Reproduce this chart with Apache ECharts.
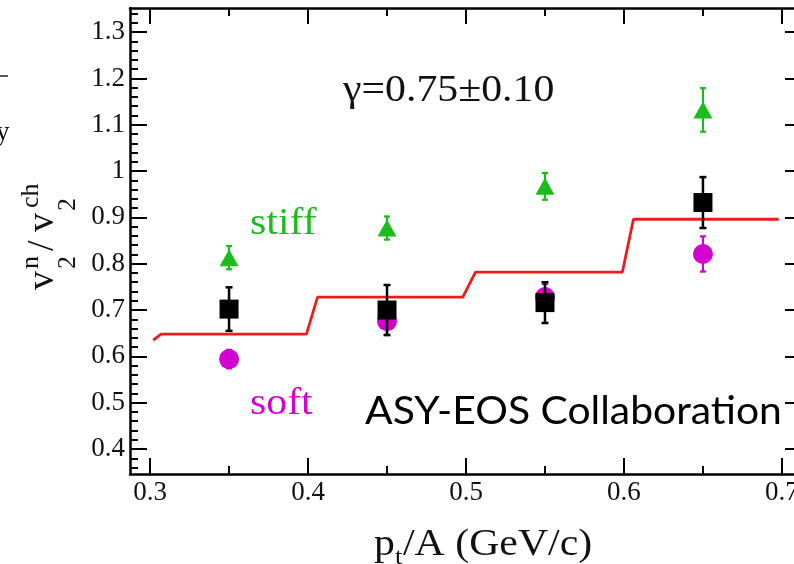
<!DOCTYPE html>
<html>
<head>
<meta charset="utf-8">
<script src="https://cdn.jsdelivr.net/npm/echarts@6/dist/echarts.min.js"></script>
<style>
  html, body { margin: 0; padding: 0; background: #fff; }
  #chart { width: 794px; height: 564px; }
</style>
</head>
<body>
<div id="chart"></div>
<script>
// Transverse-momentum bins (pt/A, GeV/c)
const ptA = [0.35, 0.45, 0.55, 0.65];

// Measured neutron/charged elliptic-flow ratio with errors
const dataV   = [0.702, 0.700, 0.716, 0.932];
const dataErr = [0.047, 0.054, 0.044, 0.055];

// UrQMD stiff prediction
const stiffV   = [0.813, 0.877, 0.967, 1.132];
const stiffErr = [0.025, 0.025, 0.029, 0.047];

// UrQMD soft prediction
const softV   = [0.594, 0.676, 0.728, 0.821];
const softErr = [0.020, 0.030, 0.028, 0.038];

// Best-fit (gamma = 0.75) step curve
const fitX = [0.302, 0.307, 0.399, 0.406, 0.498, 0.506, 0.599, 0.606, 0.698];
const fitY = [0.635, 0.648, 0.648, 0.728, 0.728, 0.782, 0.782, 0.896, 0.896];

// Axis ranges and tick positions
const X_MIN = 0.2873, X_MAX = 0.7127;
const Y_MIN = 0.346,  Y_MAX = 1.352;
const xMajor = [0.3, 0.4, 0.5, 0.6, 0.7];
const xMinor = [0.35, 0.45, 0.55, 0.65];
const yMajor = [0.4, 0.5, 0.6, 0.7, 0.8, 0.9, 1.0, 1.1, 1.2, 1.3];
const yMinor = [];
for (let i = 0; i < yMajor.length; i++) {
  for (let k = 1; k <= 4; k++) yMinor.push(+(yMajor[i] - 0.1 + k * 0.02).toFixed(2));
}
yMinor.push(1.32, 1.34);

const SERIF = 'Liberation Serif';
const SANS = 'Lato';
const GREEN = '#1cbc1c', MAGENTA = '#d400cf', RED = '#ec1c1c';

const zip3 = (xs, ys, es) => xs.map((x, i) => [x, ys[i], es[i]]);
const zip2 = (xs, ys) => xs.map((x, i) => [x, ys[i]]);

function errorBars(color, capHalf, width) {
  return function (params, api) {
    const x = api.value(0), y = api.value(1), e = api.value(2);
    const hi = api.coord([x, y + e]);
    const lo = api.coord([x, y - e]);
    const st = { stroke: color, lineWidth: width };
    return {
      type: 'group',
      children: [
        { type: 'line', shape: { x1: hi[0], y1: hi[1], x2: lo[0], y2: lo[1] }, style: st },
        { type: 'line', shape: { x1: hi[0] - capHalf, y1: hi[1], x2: hi[0] + capHalf, y2: hi[1] }, style: st },
        { type: 'line', shape: { x1: lo[0] - capHalf, y1: lo[1], x2: lo[0] + capHalf, y2: lo[1] }, style: st }
      ]
    };
  };
}

function xAxisDef(pos, values, len, withLine, withLabel) {
  return {
    type: 'value', position: pos, min: X_MIN, max: X_MAX,
    axisLine: { show: withLine, onZero: false, lineStyle: { color: '#000', width: 2.5 } },
    axisTick: { show: true, inside: true, length: len, customValues: values,
                lineStyle: { color: '#000', width: 2 } },
    axisLabel: withLabel ? {
      show: true, customValues: values, margin: 5,
      alignMinLabel: 'center', alignMaxLabel: 'center', hideOverlap: false,
      fontFamily: SERIF, fontSize: 27, color: '#111',
      formatter: v => v.toFixed(1)
    } : { show: false },
    splitLine: { show: false }
  };
}

function yAxisDef(pos, values, len, withLine, withLabel) {
  return {
    type: 'value', position: pos, min: Y_MIN, max: Y_MAX,
    axisLine: { show: withLine, onZero: false, lineStyle: { color: '#000', width: 2.5 } },
    axisTick: { show: true, inside: true, length: len, customValues: values,
                lineStyle: { color: '#000', width: 2 } },
    axisLabel: withLabel ? {
      show: true, customValues: values, margin: 5,
      fontFamily: SERIF, fontSize: 27, color: '#111',
      formatter: v => (Math.abs(v - 1) < 1e-9 ? '1' : v.toFixed(1))
    } : { show: false },
    splitLine: { show: false }
  };
}

// Text placed by its baseline (verticalAlign middle sits ~0.33em above it)
function txt(text, x, base, size, fill, family, sx) {
  return {
    type: 'text', x: x, y: base - 0.33 * size, scaleX: sx || 1,
    style: { text: text, fontFamily: family, fontSize: size, fill: fill,
             align: 'left', verticalAlign: 'middle' }
  };
}

const chart = echarts.init(document.getElementById('chart'), null, { renderer: 'canvas' });

chart.setOption({
  backgroundColor: '#ffffff',
  animation: false,
  grid: { left: 130, top: 8, right: -8, bottom: 90, containLabel: false, outerBoundsMode: 'none' },
  xAxis: [
    xAxisDef('bottom', xMajor, 16, true, true),
    xAxisDef('bottom', xMinor, 8, false, false),
    xAxisDef('top', xMajor, 16, true, false),
    xAxisDef('top', xMinor, 8, false, false)
  ],
  yAxis: [
    yAxisDef('left', yMajor, 17, true, true),
    yAxisDef('left', yMinor, 8, false, false),
    yAxisDef('right', yMajor, 17, true, false),
    yAxisDef('right', yMinor, 8, false, false)
  ],
  series: [
    {
      name: 'fit', type: 'line', data: zip2(fitX, fitY),
      showSymbol: false, symbol: 'none', z: 2,
      lineStyle: { color: RED, width: 2.8 }
    },
    {
      name: 'soft err', type: 'custom', data: zip3(ptA, softV, softErr), z: 3,
      encode: { x: 0, y: 1 }, renderItem: errorBars(MAGENTA, 3, 2.2)
    },
    {
      name: 'soft', type: 'scatter', data: zip2(ptA, softV), z: 3,
      symbol: 'circle', symbolSize: 20, itemStyle: { color: MAGENTA, opacity: 1 }
    },
    {
      name: 'stiff err', type: 'custom', data: zip3(ptA, stiffV, stiffErr), z: 4,
      encode: { x: 0, y: 1 }, renderItem: errorBars(GREEN, 3, 2.2)
    },
    {
      name: 'stiff', type: 'scatter', data: zip2(ptA, stiffV), z: 4,
      symbol: 'triangle', symbolSize: [19, 17], itemStyle: { color: GREEN, opacity: 1 }
    },
    {
      name: 'data err', type: 'custom', data: zip3(ptA, dataV, dataErr), z: 5,
      encode: { x: 0, y: 1 }, renderItem: errorBars('#000', 3.5, 2.5)
    },
    {
      name: 'data', type: 'scatter', data: zip2(ptA, dataV), z: 5,
      symbol: 'rect', symbolSize: 19, itemStyle: { color: '#000', opacity: 1 }
    }
  ],
  graphic: [
    // y-axis title: v_2^n / v_2^ch, reading bottom to top
    {
      type: 'group', x: 56, y: 290, rotation: Math.PI / 2,
      children: [
        txt('v', 0, 0, 38, '#111', SERIF),
        txt('n', 21, -16, 26, '#111', SERIF),
        txt('2', 21, 21, 26, '#111', SERIF),
        txt('/', 39, 0, 38, '#111', SERIF),
        txt('v', 58, 0, 38, '#111', SERIF),
        txt('ch', 82, -16, 26, '#111', SERIF),
        txt('2', 79, 21, 26, '#111', SERIF)
      ]
    },
    // x-axis title: p_t/A (GeV/c)
    txt('p', 374, 558, 38, '#111', SERIF, 1.1),
    txt('t', 395, 566, 24, '#111', SERIF, 1.1),
    txt('/A (GeV/c)', 403, 558, 38, '#111', SERIF, 1.1),
    // annotations
    txt('γ=0.75±0.10', 343, 104, 38, '#111', SERIF, 1.1),
    txt('stiff', 250, 237, 38, GREEN, SERIF, 1.1),
    txt('soft', 250, 417, 38, MAGENTA, SERIF, 1.1),
    txt('ASY-EOS Collaboration', 365, 424, 38, '#000', SANS, 1.075),
    // edge of the neighbouring panel
    { type: 'line', shape: { x1: 0, y1: 76, x2: 8, y2: 76 }, style: { stroke: '#222', lineWidth: 1.5 } },
    txt('y', -4, 142, 27, '#111', SERIF)
  ]
});
</script>
</body>
</html>
